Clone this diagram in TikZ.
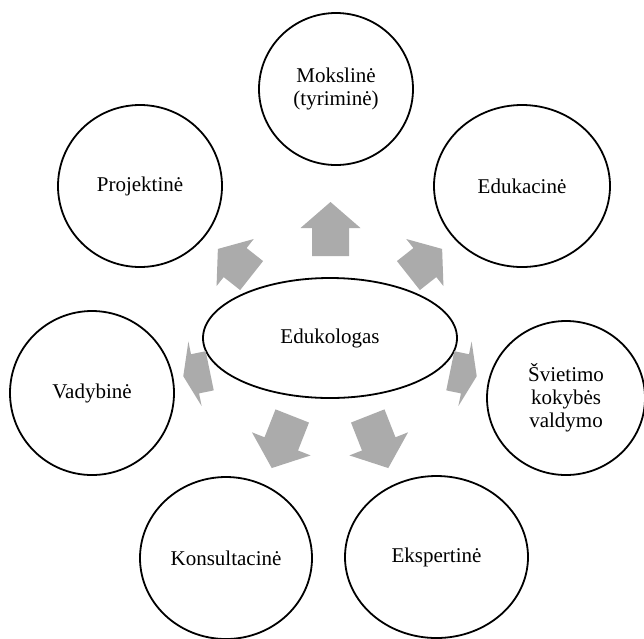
\documentclass[tikz,border=0pt]{standalone}
\usepackage{fontspec}
\setmainfont{Liberation Serif}
\usetikzlibrary{shapes.geometric}
\tikzset{
  bub/.style={draw=black, line width=1.8pt, ellipse, inner sep=0pt, align=center,
    font=\fontsize{21}{23}\selectfont},
  arrowfill/.style={fill=black!33}
}
\newcommand{\blockarr}[7]{%
  \begin{scope}[shift={(#1,#2)}, rotate=#3]
    \pgfmathsetmacro{\ArHL}{#4/2}
    \pgfmathsetmacro{\ArNK}{#4/2-#5}
    \pgfmathsetmacro{\ArHW}{#6/2}
    \pgfmathsetmacro{\ArSW}{#7/2}
    \fill[arrowfill] (-\ArHL,-\ArSW) -- (\ArNK,-\ArSW) -- (\ArNK,-\ArHW) -- (\ArHL,0)
      -- (\ArNK,\ArHW) -- (\ArNK,\ArSW) -- (-\ArHL,\ArSW) -- cycle;
  \end{scope}}
\begin{document}
\begin{tikzpicture}[x=1pt,y=-1pt]
\useasboundingbox (0,0) rectangle (644,638);
% centre
\node[bub, minimum width=254pt, minimum height=120pt] (edu) at (330,338) {Edukologas};
% outer bubbles
\node[bub, minimum width=154pt, minimum height=152pt] (mok) at (336,89) {Mokslinė\\(tyriminė)};
\node[bub, minimum width=176pt, minimum height=162pt] (eduk) at (522,186) {Edukacinė};
\node[bub, minimum width=164pt, minimum height=162pt] (proj) at (140,186) {Projektinė};
\node[bub, minimum width=164pt, minimum height=164pt] (vad) at (92,393) {Vadybinė};
\node[bub, minimum width=158pt, minimum height=154pt] (svi) at (566,398) {Švietimo\\kokybės\\valdymo};
\node[bub, minimum width=172pt, minimum height=162pt] (kons) at (226,558) {Konsultacinė};
\node[bub, minimum width=183pt, minimum height=162pt] (eksp) at (436.5,557) {Ekspertinė};
% block arrows
\blockarr{330.5}{229}{90}{54}{26}{60}{37}
\blockarr{234.75}{262.25}{141.7}{43}{22}{60}{37}
\blockarr{425.25}{262.25}{38.3}{43}{22}{60}{37}
\blockarr{196.5}{373.5}{191.6}{27}{12}{66}{40}
\blockarr{463.5}{373.5}{-11.6}{27}{12}{66}{40}
\blockarr{282}{442}{248.5}{56}{26}{63}{36}
\blockarr{378}{442}{-68.5}{56}{26}{63}{36}
\end{tikzpicture}
\end{document}
